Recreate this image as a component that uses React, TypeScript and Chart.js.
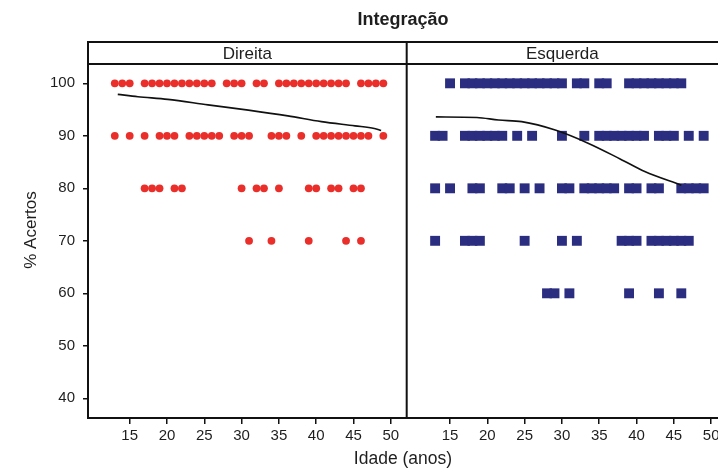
import React, { useEffect, useRef } from 'react';
import { Chart, registerables } from 'chart.js';

Chart.register(...registerables);

const chartTitle = 'Integração';
const leftPanelLabel = 'Direita';
const rightPanelLabel = 'Esquerda';
const yAxisTitle = '% Acertos';
const xAxisTitle = 'Idade (anos)';
const xTickValues = [15, 20, 25, 30, 35, 40, 45, 50];
const yTickValues = [40, 50, 60, 70, 80, 90, 100];

// Direita (red circles): ages observed at each % level
const direita100 = [13, 14, 15, 17, 18, 19, 20, 21, 22, 23, 24, 25, 26, 28, 29, 30, 32, 33, 35, 36, 37, 38, 39, 40, 41, 42, 43, 44, 46, 47, 48, 49];
const direita90 = [13, 15, 17, 19, 20, 21, 23, 24, 25, 26, 27, 29, 30, 31, 34, 35, 36, 38, 40, 41, 42, 43, 44, 45, 46, 47, 49];
const direita80 = [17, 18, 19, 21, 22, 30, 32, 33, 35, 39, 40, 42, 43, 45, 46];
const direita70 = [31, 34, 39, 44, 46];
const direitaTrendAge = [13.4, 16.1, 20.1, 25.5, 30.9, 36.2, 40.7, 45.2, 47.8, 48.7];
const direitaTrendPct = [97.9, 97.45, 96.95, 95.9, 94.9, 93.8, 92.7, 91.9, 91.4, 91.0];

// Esquerda (navy squares)
const esquerda100 = [15, 17, 18, 19, 20, 21, 22, 23, 24, 25, 26, 27, 28, 29, 30, 32, 33, 35, 36, 39, 40, 41, 42, 43, 44, 45, 46];
const esquerda90 = [13, 14, 17, 18, 19, 20, 21, 22, 24, 26, 30, 33, 35, 36, 37, 38, 39, 40, 41, 43, 44, 45, 47, 49];
const esquerda80 = [13, 15, 18, 19, 22, 23, 25, 27, 30, 31, 33, 34, 35, 36, 37, 39, 40, 42, 43, 46, 47, 48, 49];
const esquerda70 = [13, 17, 18, 19, 25, 30, 32, 38, 39, 40, 42, 43, 44, 45, 46, 47];
const esquerda60 = [28, 29, 31, 39, 43, 46];
const esquerdaTrendAge = [13.1, 18.6, 21.5, 24.6, 29.1, 33.5, 37.8, 41.1, 46];
const esquerdaTrendPct = [93.6, 93.5, 93.0, 92.7, 91.1, 88.6, 85.6, 83.2, 80.6];

// panel geometry on the shared age axis
const panelMin = 9.41;
const dividerAt = 52.13;
const rightOffset = 42.94;
const axisMax = 93.86;
const yMin = 36.25;
const yMax = 103.68;

const FONT = '"Liberation Sans", Arial, sans-serif';
const TEXT = '#1e1e1e';

const toPts = (ages: number[], pct: number, off = 0) => ages.map((a) => ({ x: a + off, y: pct }));

const panelPlugin = {
  id: 'panelDecor',
  afterDraw(chart: any) {
    const { ctx, chartArea, scales } = chart;
    const xs = scales.x;
    const divX = xs.getPixelForValue(dividerAt);
    const stripTop = 42;
    ctx.save();
    ctx.strokeStyle = '#111';
    ctx.lineWidth = 2;
    ctx.beginPath();
    ctx.moveTo(chartArea.left - 1, stripTop);
    ctx.lineTo(chart.width, stripTop);
    ctx.moveTo(chartArea.left - 1, chartArea.top);
    ctx.lineTo(chart.width, chartArea.top);
    ctx.moveTo(chartArea.left, stripTop);
    ctx.lineTo(chartArea.left, chartArea.top);
    ctx.moveTo(divX, stripTop);
    ctx.lineTo(divX, chartArea.bottom);
    ctx.stroke();

    ctx.fillStyle = TEXT;
    ctx.font = `17px ${FONT}`;
    ctx.textAlign = 'center';
    ctx.textBaseline = 'middle';
    const stripMid = (stripTop + chartArea.top) / 2 + 1;
    ctx.fillText(leftPanelLabel, (chartArea.left + divX) / 2, stripMid);
    ctx.fillText(rightPanelLabel, (divX + chart.width) / 2, stripMid);

    ctx.translate(31, 230);
    ctx.rotate(-Math.PI / 2);
    ctx.fillText(yAxisTitle, 0, 0);
    ctx.restore();
  },
};

export default function App() {
  const ref = useRef<HTMLCanvasElement | null>(null);

  useEffect(() => {
    document.body.style.margin = '0';
    const canvas = ref.current;
    if (!canvas) return;

    const red = '#ea2e2a';
    const navy = '#2a2d80';

    const chart = new Chart(canvas, {
      type: 'scatter',
      data: {
        datasets: [
          {
            type: 'line',
            data: direitaTrendAge.map((a, i) => ({ x: a, y: direitaTrendPct[i] })),
            borderColor: '#111',
            borderWidth: 1.6,
            pointRadius: 0,
            fill: false,
            cubicInterpolationMode: 'monotone',
          } as any,
          {
            type: 'line',
            data: esquerdaTrendAge.map((a, i) => ({ x: a + rightOffset, y: esquerdaTrendPct[i] })),
            borderColor: '#111',
            borderWidth: 1.6,
            pointRadius: 0,
            fill: false,
            cubicInterpolationMode: 'monotone',
          } as any,
          {
            data: [
              ...toPts(direita100, 100),
              ...toPts(direita90, 90),
              ...toPts(direita80, 80),
              ...toPts(direita70, 70),
            ],
            backgroundColor: red,
            borderWidth: 0,
            pointStyle: 'circle',
            pointRadius: 3.9,
          },
          {
            data: [
              ...toPts(esquerda100, 100, rightOffset),
              ...toPts(esquerda90, 90, rightOffset),
              ...toPts(esquerda80, 80, rightOffset),
              ...toPts(esquerda70, 70, rightOffset),
              ...toPts(esquerda60, 60, rightOffset),
            ],
            backgroundColor: navy,
            borderWidth: 0,
            pointStyle: 'rect',
            pointRadius: 7,
          },
        ],
      },
      options: {
        responsive: false,
        animation: false,
        events: [],
        layout: { autoPadding: false, padding: { left: 0, right: 0, top: 0, bottom: 0 } },
        plugins: {
          legend: { display: false },
          tooltip: { enabled: false },
          title: {
            display: true,
            text: chartTitle,
            fullSize: false,
            color: TEXT,
            font: { family: FONT, size: 18, weight: 'bold', lineHeight: 1.2 },
            padding: { top: 9.2, bottom: 33.2 },
          },
        },
        scales: {
          x: {
            type: 'linear',
            min: panelMin,
            max: axisMax,
            border: { display: true, color: '#111', width: 2 },
            grid: { drawOnChartArea: false, drawTicks: true, tickLength: 6, color: '#111', lineWidth: 1.5 },
            ticks: {
              autoSkip: false,
              maxRotation: 0,
              padding: 3,
              color: TEXT,
              font: { family: FONT, size: 15 },
              callback: (v: any) => {
                const n = Number(v);
                return String(Math.round(n > dividerAt ? n - rightOffset : n));
              },
            },
            title: {
              display: true,
              text: xAxisTitle,
              color: TEXT,
              font: { family: FONT, size: 17.5, lineHeight: 1 },
              padding: { top: 0, bottom: 1 },
            },
            afterBuildTicks: (scale: any) => {
              scale.ticks = [...xTickValues, ...xTickValues.map((v) => v + rightOffset)].map((value) => ({ value }));
            },
            afterFit: (scale: any) => {
              scale.height = 51;
              scale.paddingLeft = 0;
              scale.paddingRight = 0;
            },
          },
          y: {
            type: 'linear',
            min: yMin,
            max: yMax,
            border: { display: true, color: '#111', width: 2 },
            grid: { drawOnChartArea: false, drawTicks: true, tickLength: 5, color: '#111', lineWidth: 1.5 },
            ticks: {
              padding: 8,
              color: TEXT,
              font: { family: FONT, size: 15 },
            },
            afterBuildTicks: (scale: any) => {
              scale.ticks = yTickValues.map((value) => ({ value }));
            },
            afterFit: (scale: any) => {
              scale.width = 88;
              scale.paddingTop = 0;
              scale.paddingBottom = 0;
            },
          },
        },
      } as any,
      plugins: [panelPlugin],
    });

    return () => chart.destroy();
  }, []);

  return (
    <div style={{ position: 'fixed', left: 0, top: 0, width: 718, height: 469, background: '#fff' }}>
      <canvas ref={ref} width={718} height={469} />
    </div>
  );
}
